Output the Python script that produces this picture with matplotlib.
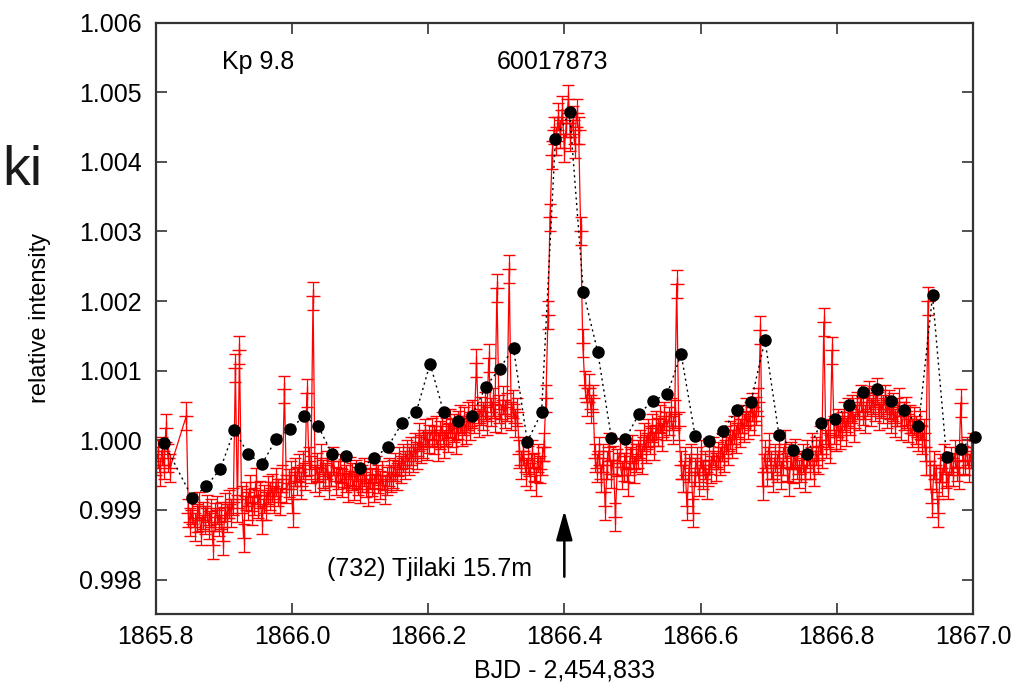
import matplotlib
matplotlib.use("Agg")
import matplotlib.pyplot as plt
import numpy as np

plt.rcParams['font.family'] = ['Liberation Sans', 'DejaVu Sans']

# ---------------- data ----------------
# Short-cadence photometry, deviations from 1 in units of 1e-5
SC_A_START, SC_A_END = 1865.800, 1865.821
SC_A_DEV = [-30, -20, -45, -15, -35, 18, -25, -40]
SC_ISO_TIME = [1865.845]
SC_ISO_DEV = [35]
SC_B_START, SC_B_END = 1865.848, 1867.000
SC_B_DEV = [
    -105, -118, -100, -125, -112, -95, -130, -108, -115, -98, -122, -105, -150, -110, -100, -118, -108, -145, -96, -112,
    -92, -105, -88, 104, -98, 130, -85, -140, -80, -95, -70, -102, -88, -60, -92, -78, -115, -84, -95, -72,
    -80, -68, -85, -60, -75, -88, -55, 73, -70, -62, -50, -105, -45, -58, -40, -65, -35, -52, 68, -30,
    -42, 207, -55, -38, -60, -25, -48, -52, -35, -65, -45, -30, -58, -50, -40, -62, -47, -55, -68, -44,
    -52, -66, -48, -58, -70, -55, -45, -62, -75, -50, -60, -68, -42, -56, -64, -50, -72, -58, -46, -55,
    -48, -38, -52, -30, -42, -25, -35, -20, -30, -15, -25, -10, -22, 5, -12, -5, 10, -8, 2, 12,
    0, 15, -10, 8, 20, -5, 12, 3, 25, 10, 18, 0, 22, 30, 12, 28, 15, 35, 20, 38,
    30, 111, 25, 42, 35, 50, 28, 118, 40, 55, 32, 219, 45, 30, 58, 38, 48, 246, 35, 52,
    25, 40, -20, -35, -15, -45, -28, -52, -20, -38, -60, -25, -42, -30, -10, 60, 180, 320, 410, 445,
    430, 465, 440, 475, 420, 455, 490, 435, 460, 425, 470, 445, 300, 140, 80, 55, 75, 45, 60, -25,
    -40, -15, -55, -25, -95, -35, -10, -48, -28, -110, -32, -18, -50, -38, -22, -60, -30, -12, -42, -25,
    -20, -5, -28, 5, -12, 10, 0, 18, -8, 22, 12, 30, 5, 35, 20, 28, 40, 15, 38, 225,
    20, -35, -55, -30, -95, -40, -25, -105, -45, -30, -60, -20, -50, -35, -65, -28, -42, -15, -38, -22,
    -30, -10, -25, 0, -15, 8, -5, 15, 2, 25, 10, 30, 18, 40, 22, 35, 48, 28, 42, 55,
    158, -66, -20, -45, -10, -35, -55, -25, -40, -15, -50, -30, -5, -38, -60, -22, -42, -18, -35, -48,
    -40, -25, -55, -20, -35, -10, -45, -15, -28, 0, -20, 170, -5, 10, -12, 129, 15, 5, 25, 8,
    20, 35, 12, 40, 28, 45, 18, 50, 35, 60, 42, 30, 55, 65, 40, 58, 48, 70, 35, 52,
    45, 60, 38, 52, 30, 48, 25, 40, 55, 20, 35, 42, 18, 30, 10, 28, 15, 5, 22, 0,
    10, -30, 200, -50, -90, -35, -55, -105, -40, -60, -25, -48, -65, -30, -45, -20, -38, -50, 54, -28,
    -30, -15, -40, -20, -10,
]
SC_ERR = 0.00020

# Long-cadence binned points (black dots)
LC_TIME = [1865.8122, 1865.8538, 1865.8744, 1865.8950, 1865.9156, 1865.9357, 1865.9563, 1865.9769,
           1865.9975, 1866.0181, 1866.0387, 1866.0593, 1866.0799, 1866.1004, 1866.1210, 1866.1412,
           1866.1618, 1866.1824, 1866.2029, 1866.2229, 1866.2435, 1866.2641, 1866.2847, 1866.3049,
           1866.3254, 1866.3456, 1866.3666, 1866.3868, 1866.4078, 1866.4279, 1866.4490, 1866.4691,
           1866.4897, 1866.5097, 1866.5303, 1866.5509, 1866.5715, 1866.5921, 1866.6126, 1866.6328,
           1866.6534, 1866.6740, 1866.6946, 1866.7151, 1866.7357, 1866.7563, 1866.7765, 1866.7971,
           1866.8176, 1866.8382, 1866.8588, 1866.8794, 1866.8994, 1866.9200, 1866.9406, 1866.9612,
           1866.9818, 1867.0024]
LC_FLUX = [0.99996, 0.99917, 0.99934, 0.99959, 1.00015, 0.99980, 0.99966, 1.00002,
           1.00016, 1.00035, 1.00020, 0.99980, 0.99977, 0.99960, 0.99974, 0.99991,
           1.00025, 1.00040, 1.00110, 1.00040, 1.00027, 1.00035, 1.00077, 1.00103,
           1.00132, 0.99998, 1.00040, 1.00432, 1.00471, 1.00213, 1.00127, 1.00003,
           1.00002, 1.00038, 1.00057, 1.00066, 1.00124, 1.00006, 0.99999, 1.00014,
           1.00044, 1.00055, 1.00144, 1.00008, 0.99986, 0.99980, 1.00025, 1.00031,
           1.00051, 1.00070, 1.00073, 1.00057, 1.00044, 1.00020, 1.00208, 0.99976,
           0.99988, 1.00005]

X_TICKS = [1865.8, 1866.0, 1866.2, 1866.4, 1866.6, 1866.8, 1867.0]
Y_TICKS = [0.998, 0.999, 1.000, 1.001, 1.002, 1.003, 1.004, 1.005, 1.006]

# ---------------- assemble series ----------------
t_a = np.linspace(SC_A_START, SC_A_END, len(SC_A_DEV))
t_b = np.linspace(SC_B_START, SC_B_END, len(SC_B_DEV))
sc_t = np.concatenate([t_a, SC_ISO_TIME, t_b])
sc_f = 1.0 + 1e-5 * np.concatenate([SC_A_DEV, SC_ISO_DEV, SC_B_DEV])

# ---------------- figure ----------------
fig = plt.figure(figsize=(10.23, 6.89), dpi=100)
ax = fig.add_axes([0.1522, 0.1084, 0.7989, 0.8589])

ax.errorbar(sc_t, sc_f, yerr=SC_ERR, fmt='-', color='#ff0000', marker='+',
            ms=10, mew=1.0, lw=0.9, elinewidth=0.9, capsize=4.5, capthick=0.9, zorder=2)

ax.plot(LC_TIME, LC_FLUX, linestyle=(0, (1.5, 2.5)), color='black', lw=1.0,
        marker='o', ms=8, clip_on=False, zorder=5)

ax.set_xlim(1865.8, 1867.0)
ax.set_ylim(0.9975, 1.006)
ax.set_xticks(X_TICKS)
ax.set_yticks(Y_TICKS)
ax.set_xticklabels([f"{v:.1f}" for v in X_TICKS])
ax.set_yticklabels([f"{v:.3f}" for v in Y_TICKS])
ax.tick_params(direction='in', top=True, right=True, length=8, width=1.2,
               labelsize=18, color='#333333')
ax.tick_params(axis='y', pad=10)
ax.tick_params(axis='x', pad=8)
for s in ax.spines.values():
    s.set_linewidth(1.6)
    s.set_color('#333333')

ax.set_ylabel('relative intensity', fontsize=17)
ax.yaxis.set_label_coords(-0.128, 0.5)
ax.set_xlabel('BJD - 2,454,833', fontsize=18)
ax.xaxis.set_label_coords(0.5, -0.074)

ax.text(1865.8975, 1.00543, 'Kp 9.8', fontsize=18, ha='left', va='center')
ax.text(1866.383, 1.00543, '60017873', fontsize=18, ha='center', va='center')
ax.text(1866.352, 0.99815, '(732) Tjilaki 15.7m', fontsize=18, ha='right', va='center')
ax.annotate('', xy=(1866.4, 0.99903), xytext=(1866.4, 0.99800),
            arrowprops=dict(arrowstyle='-|>,head_length=0.9,head_width=0.25',
                            color='black', lw=1.8, mutation_scale=20))

fig.text(2 / 1023, 1 - 185 / 689, 'ki', fontsize=40, ha='left', va='baseline', color='#1a1a1a')

fig.savefig('out.png', dpi=100)
